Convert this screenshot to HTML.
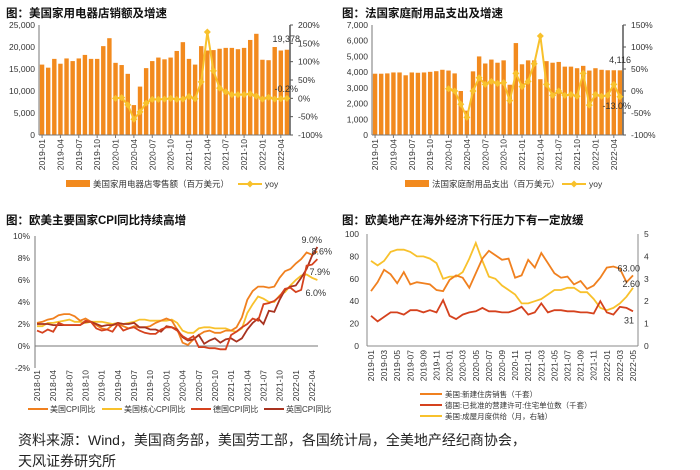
<!DOCTYPE html>
<html><head><meta charset="utf-8"><style>
html,body{margin:0;padding:0;background:#fff;}
svg{display:block;font-family:"Liberation Sans","Noto Sans CJK SC",sans-serif;}
</style></head><body>
<svg id="s" width="700" height="470" viewBox="0 0 700 470" xmlns="http://www.w3.org/2000/svg">
<text x="6" y="17" font-size="11.5" font-weight="bold" fill="#111">图：美国家用电器店销额及增速</text>
<text x="342" y="17" font-size="11.5" font-weight="bold" fill="#111">图：法国家庭耐用品支出及增速</text>
<text x="6" y="224" font-size="11.5" font-weight="bold" fill="#111">图：欧美主要国家CPI同比持续高增</text>
<text x="342" y="224" font-size="11.5" font-weight="bold" fill="#111">图：欧美地产在海外经济下行压力下有一定放缓</text>
<text x="18" y="445" font-size="14" fill="#222">资料来源：Wind，美国商务部，美国劳工部，各国统计局，全美地产经纪商协会，</text>
<text x="18" y="466" font-size="14" fill="#222">天风证券研究所</text>
</svg>
<script>
// ---------- Chart 1 data ----------
const c1Bars = [16000,15300,17300,16200,17400,16800,17400,18200,17300,17300,20200,22000,
16400,15900,13900,6800,11000,15200,16800,17600,17200,17600,19100,21100,
17300,16000,20200,19200,19300,19600,19800,19800,19500,19800,21600,23000,
17100,17000,20000,19200,19378];
const c1Yoy = [null,null,null,null,null,null,null,null,null,null,null,null,
0,2,-18,-57,-37,-13,-3,-3,-2,0,-3,-2,
5,-1,45,181,75,28,18,10,10,10,12,6,
-2,3,-2,-1,-0.2];
const c1LeftTicks = [0,5000,10000,15000,20000,25000];
const c1RightTicks = [-100,-50,0,50,100,150,200];
// ---------- Chart 2 data ----------
const c2Bars = [3900,3900,3920,3980,3980,3800,3980,3960,3980,4020,4060,4150,
4100,3920,2800,1550,4050,5000,4550,4800,4600,4750,3200,5850,
4500,4750,4750,3550,4700,4600,4650,4350,4350,4250,4400,4100,
4250,4150,4120,4120,4116];
const c2Yoy = [null,null,null,null,null,null,null,null,null,null,null,null,
5,0,-30,-60,0,30,15,22,17,19,-22,40,
10,22,62,125,15,-10,0,-10,-8,-12,40,-32,
-8,-12,-10,15,-13];
const c2LeftTicks = [0,1000,2000,3000,4000,5000,6000,7000];
const c2RightTicks = [-100,-50,0,50,100,150];
const monthLabels41 = ["2019-01","2019-04","2019-07","2019-10","2020-01","2020-04","2020-07","2020-10","2021-01","2021-04","2021-07","2021-10","2022-01","2022-04"];
// ---------- Chart 3 data ----------
const cpiUS = [2.1,2.2,2.4,2.5,2.8,2.9,2.9,2.7,2.3,2.5,2.2,1.9,1.6,1.5,1.9,2.0,1.8,1.6,1.8,1.7,1.7,1.8,2.1,2.3,2.5,2.3,1.5,0.3,0.1,0.6,1.0,1.3,1.4,1.2,1.2,1.4,1.4,1.7,2.6,4.2,5.0,5.4,5.4,5.3,5.4,6.2,6.8,7.0,7.5,7.9,8.5,8.3,8.6];
const cpiCore = [1.8,1.8,2.1,2.1,2.2,2.3,2.4,2.2,2.2,2.1,2.2,2.2,2.2,2.1,2.0,2.1,2.0,2.1,2.2,2.4,2.4,2.3,2.3,2.3,2.3,2.4,2.1,1.4,1.2,1.2,1.6,1.7,1.7,1.6,1.6,1.6,1.4,1.3,1.6,3.0,3.8,4.5,4.3,4.0,4.0,4.6,4.9,5.5,6.0,6.4,6.5,6.2,6.0];
const cpiDE = [1.4,1.2,1.5,1.3,2.1,1.9,1.9,1.9,1.9,2.3,2.2,1.6,1.4,1.5,1.3,2.0,1.4,1.6,1.7,1.4,1.2,1.1,1.1,1.5,1.7,1.7,1.4,0.9,0.6,0.9,-0.1,-0.1,-0.2,-0.2,-0.3,-0.3,1.0,1.3,1.7,2.0,2.5,2.3,3.8,3.9,4.1,4.5,5.2,5.3,4.9,5.1,7.3,7.4,7.9];
const cpiUK = [2.0,2.0,2.0,1.9,1.9,1.9,1.9,1.9,1.9,2.2,2.2,2.0,1.8,1.9,1.9,2.1,2.0,2.0,2.1,1.7,1.7,1.5,1.5,1.3,1.8,1.7,1.5,0.8,0.5,0.6,1.0,0.2,0.5,0.7,0.3,0.6,0.7,0.4,0.7,1.5,2.1,2.5,2.0,3.2,3.1,4.2,5.1,5.4,5.5,6.2,7.0,8.2,9.0];
const c3Ticks = [-2,0,2,4,6,8,10];
const c3Labels = ["2018-01","2018-04","2018-07","2018-10","2019-01","2019-04","2019-07","2019-10","2020-01","2020-04","2020-07","2020-10","2021-01","2021-04","2021-07","2021-10","2022-01","2022-04"];
// ---------- Chart 4 data ----------
const usNewHome = [49,57,68,64,56,66,55,57,56,55,50,49,59,63,61,52,65,78,85,81,77,78,61,63,77,70,83,74,65,61,62,55,58,51,54,61,70,71,69,57,63];
const dePermits = [27,22,26,30,30,28,32,32,30,32,30,41,27,24,28,30,31,34,31,31,30,30,32,35,28,30,38,30,32,32,31,31,30,30,29,40,30,28,35,34,31];
const usSupply = [3.8,3.6,3.8,4.2,4.3,4.3,4.2,4.0,4.0,3.9,3.7,3.0,3.1,3.1,3.3,3.9,4.6,3.8,3.1,3.0,2.7,2.5,2.3,1.9,1.9,2.0,2.1,2.3,2.5,2.5,2.6,2.6,2.4,2.4,2.1,1.7,1.6,1.7,1.9,2.2,2.6];
const c4LeftTicks = [0,20,40,60,80,100];
const c4RightTicks = [0,1,2,3,4,5];
const c4Labels = ["2019-01","2019-03","2019-05","2019-07","2019-09","2019-11","2020-01","2020-03","2020-05","2020-07","2020-09","2020-11","2021-01","2021-03","2021-05","2021-07","2021-09","2021-11","2022-01","2022-03","2022-05"];

const S = document.getElementById('s');
const NS = 'http://www.w3.org/2000/svg';
function mk(tag, a){const e=document.createElementNS(NS,tag);for(const k in a)e.setAttribute(k,a[k]);S.appendChild(e);return e;}
function tx(x,y,str,size,anchor,fill,rot){const e=mk('text',{x:x,y:y,'font-size':size,'text-anchor':anchor,fill:fill||'#333'});if(rot)e.setAttribute('transform','rotate(-90 '+x+' '+y+')');e.textContent=str;return e;}
function fmt(n){return n.toLocaleString('en-US');}
const BAR='#f28a1e', YEL='#f8c12c', ORG='#f0801f', RED='#d5421e', DRED='#a8321f';

// ---------- generic bar+yoy chart ----------
function barYoy(p){
  const n=p.bars.length, bw=(p.x1-p.x0)/n;
  const yL=v=>p.yb-(v-p.lmin)/(p.lmax-p.lmin)*(p.yb-p.yt);
  const yR=v=>p.yb-(v-p.rmin)/(p.rmax-p.rmin)*(p.yb-p.yt);
  const xc=i=>p.x0+bw*(i+0.5);
  let e;
  p.lt.forEach(v=>{e=tx(p.x0-4,yL(v)+3,fmt(v),8.5,'end');

});
  p.rt.forEach(v=>{e=tx(p.x1+8,yR(v)+3,v+'%',8.5,'start');


    mk('line',{x1:p.x1,x2:p.x1+3,y1:yR(v),y2:yR(v),stroke:'#555'});});
  p.bars.forEach((v,i)=>{e=mk('rect',{x:xc(i)-bw*0.36,y:yL(v),width:bw*0.72,height:yL(p.lmin)-yL(v),fill:BAR});

});
  e=mk('line',{x1:p.x0,x2:p.x0,y1:p.yt,y2:p.yb,stroke:'#777'});


  e=mk('line',{x1:p.x1,x2:p.x1,y1:p.yt,y2:p.yb,stroke:'#555','stroke-width':1.5});


  e=mk('line',{x1:p.x0,x2:p.x1,y1:p.yb,y2:p.yb,stroke:'#777'});


  for(let i=0;i<n;i+=3){mk('line',{x1:xc(i),x2:xc(i),y1:p.yb,y2:p.yb+3,stroke:'#777'});
    e=tx(xc(i)+3,p.yb+4,monthLabels41[i/3],8.5,'end','#333',true);

}
  let d='';p.yoy.forEach((v,i)=>{if(v===null)return;d+=(d?'L':'M')+xc(i)+' '+yR(v);});
  e=mk('path',{d:d,fill:'none',stroke:YEL,'stroke-width':2});


  p.yoy.forEach((v,i)=>{if(v===null)return;const x=xc(i),y=yR(v);
    e=mk('path',{d:`M${x} ${y-3.5}L${x+3.5} ${y}L${x} ${y+3.5}L${x-3.5} ${y}Z`,fill:YEL});

});
  const last=n-1;
  e=tx(p.lastBarLbl[0],p.lastBarLbl[1],fmt(p.bars[last]).replace(/,(\d{3})$/,',$1'),9,'end','#333');


  e=tx(p.lastYoyLbl[0],p.lastYoyLbl[1],p.yoy[last].toFixed(1)+'%',9,'end','#333');


  // legend
  e=mk('rect',{x:p.leg,y:180,width:24,height:7,fill:BAR});


  e=tx(p.leg+27,187,p.barName,8.5,'start','#333');


  const lx=p.leg+p.yoyOff;
  mk('line',{x1:lx,x2:lx+24,y1:184,y2:184,stroke:YEL,'stroke-width':2});
  e=mk('path',{d:`M${lx+12} 180.5L${lx+15.5} 184L${lx+12} 187.5L${lx+8.5} 184Z`,fill:YEL});


  e=tx(lx+27,187,'yoy',8.5,'start','#333');


}
barYoy({id:'chart1',bars:c1Bars,yoy:c1Yoy,x0:39,x1:290,yt:25,yb:135,lmin:0,lmax:25000,rmin:-100,rmax:200,lt:c1LeftTicks,rt:c1RightTicks,lastBarLbl:[300,42],lastYoyLbl:[298,92],leg:66,yoyOff:172,barName:'美国家用电器店零售额（百万美元）'});
barYoy({id:'chart2',bars:c2Bars,yoy:c2Yoy,x0:372,x1:623,yt:25,yb:135,lmin:0,lmax:7000,rmin:-100,rmax:150,lt:c2LeftTicks,rt:c2RightTicks,lastBarLbl:[631,63],lastYoyLbl:[631,109],leg:405,yoyOff:157,barName:'法国家庭耐用品支出（百万美元）'});

// ---------- Chart 3 ----------
(function(){
  const x0=35,x1=318,yt=236,yb=368,n=cpiUS.length;
  const xs=i=>37+i*(312-37)/51;
  const ys=v=>yb-(v+2)/12*(yb-yt);
  let e;
  c3Ticks.forEach(v=>{e=tx(x0-5,ys(v)+3,v+'%',8.5,'end');

});
  e=mk('line',{x1:x0,x2:x0,y1:yt,y2:yb,stroke:'#777'});


  e=mk('line',{x1:x0,x2:x1,y1:ys(0),y2:ys(0),stroke:'#777'});


  c3Labels.forEach((l,k)=>{e=tx(xs(k*3)+3,yb+2,l,8.5,'end','#333',true);

});
  const series=[[cpiCore,YEL,'core'],[cpiUS,ORG,'us'],[cpiUK,DRED,'uk'],[cpiDE,RED,'de']];
  series.forEach(s=>{let d='';s[0].forEach((v,i)=>{d+=(i?'L':'M')+xs(i).toFixed(1)+' '+ys(v).toFixed(1);});
    e=mk('path',{d:d,fill:'none',stroke:s[1],'stroke-width':1.8});

});
  const L=n-1;
  e=tx(322,ys(cpiUK[L])-4,cpiUK[L].toFixed(1)+'%',9,'end');


  e=tx(332,ys(cpiUS[L])+3,cpiUS[L].toFixed(1)+'%',9,'end');


  e=tx(330,ys(cpiDE[L])+16,cpiDE[L].toFixed(1)+'%',9,'end');


  e=tx(326,ys(cpiCore[L])+16,cpiCore[L].toFixed(1)+'%',9,'end');


  const leg=[[28,ORG,'美国CPI同比'],[102,YEL,'美国核心CPI同比'],[191,RED,'德国CPI同比'],[264,DRED,'英国CPI同比']];
  leg.forEach(g=>{mk('line',{x1:g[0],x2:g[0]+20,y1:409,y2:409,stroke:g[1],'stroke-width':2});
    e=tx(g[0]+22,412,g[2],8,'start','#333');

});
})();

// ---------- Chart 4 ----------
(function(){
  const x0=367,x1=638,yt=234,yb=346,n=usNewHome.length;
  const xs=i=>371+i*(633-371)/(n-1);
  const yl=v=>yb-v/100*(yb-yt);
  const yr=v=>yb-v/5*(yb-yt);
  let e;
  c4LeftTicks.forEach(v=>{e=tx(x0-8,yl(v)+3,String(v),8.5,'end');

});
  c4RightTicks.forEach(v=>{e=tx(x1+6,yr(v)+3,String(v),8.5,'start');

});
  e=mk('line',{x1:x0,x2:x0,y1:yt,y2:yb,stroke:'#888'});


  e=mk('line',{x1:x1,x2:x1,y1:yt,y2:yb,stroke:'#888'});


  e=mk('line',{x1:x0,x2:x1,y1:yb,y2:yb,stroke:'#888'});


  c4Labels.forEach((l,k)=>{e=tx(xs(k*2)+3,yb+4,l,8.5,'end','#333',true);

});
  function path(arr,f){let d='';arr.forEach((v,i)=>{d+=(i?'L':'M')+xs(i).toFixed(1)+' '+f(v).toFixed(1);});return d;}
  e=mk('path',{d:path(usSupply,yr),fill:'none',stroke:YEL,'stroke-width':1.8});


  e=mk('path',{d:path(usNewHome,yl),fill:'none',stroke:ORG,'stroke-width':1.8});


  e=mk('path',{d:path(dePermits,yl),fill:'none',stroke:RED,'stroke-width':1.8});


  const L=n-1;
  e=tx(640,yl(usNewHome[L])-4,usNewHome[L].toFixed(2),9,'end');


  e=tx(640,yr(usSupply[L])-1,usSupply[L].toFixed(2),9,'end');


  e=tx(634,yl(dePermits[L])+12,String(dePermits[L]),9,'end');


  const leg=[[394,ORG,'美国:新建住房销售（千套）'],[405,RED,'德国:已批准的营建许可:住宅单位数（千套）'],[416,YEL,'美国:成屋月度供给（月，右轴）']];
  leg.forEach(g=>{mk('line',{x1:420,x2:442,y1:g[0],y2:g[0],stroke:g[1],'stroke-width':2});
    e=tx(445,g[0]+3,g[2],7.5,'start','#333');

});
})();
</script>
</body></html>
